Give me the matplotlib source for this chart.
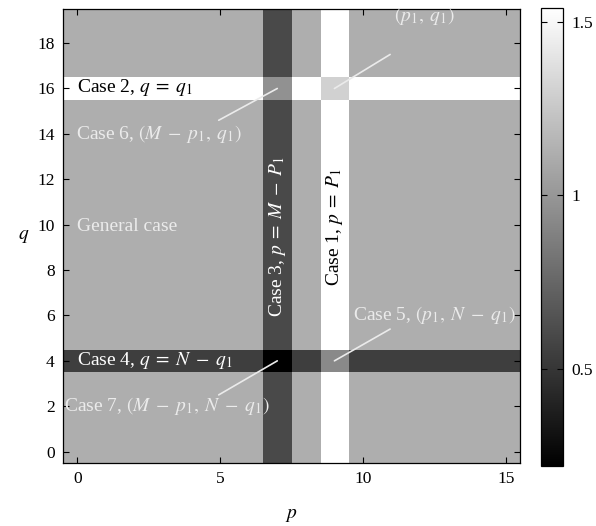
import numpy as np
import matplotlib
matplotlib.use("Agg")
import matplotlib.pyplot as plt

plt.rcParams['font.family'] = ['Liberation Serif', 'DejaVu Serif']
plt.rcParams['mathtext.fontset'] = 'stix'

# Grid size and special indices
M_cols = 16          # p = 0..15
N_rows = 20          # q = 0..19
p1, q1 = 9, 16
p_mirror, q_mirror = 7, 4

# Cell values for each region
general_val = 1.12
col_p1_val = 1.54
row_q1_val = 1.54
col_mirror_val = 0.60
row_mirror_val = 0.54
val_p1_q1 = 1.30
val_mirror_q1 = 0.97
val_p1_mirror = 0.93
val_mirror_mirror = 0.22

Z = np.full((N_rows, M_cols), general_val)
Z[:, p1] = col_p1_val
Z[q1, :] = row_q1_val
Z[:, p_mirror] = col_mirror_val
Z[q_mirror, :] = row_mirror_val
Z[q1, p1] = val_p1_q1
Z[q1, p_mirror] = val_mirror_q1
Z[q_mirror, p1] = val_p1_mirror
Z[q_mirror, p_mirror] = val_mirror_mirror

fig = plt.figure(figsize=(5.96, 5.26), dpi=100)
ax = fig.add_axes([0.1057, 0.1198, 0.767, 0.863])
cax = fig.add_axes([0.9077, 0.114, 0.0369, 0.871])

im = ax.imshow(Z, cmap='gray', origin='lower', aspect='auto',
               extent=(-0.5, M_cols - 0.5, -0.5, N_rows - 0.5),
               interpolation='nearest')

ax.set_xticks([0, 5, 10, 15])
ax.set_yticks(np.arange(0, 19, 2))
ax.tick_params(direction='in', length=4, width=0.8, top=True, right=True,
               labelsize=12.5, pad=6)
for s in ax.spines.values():
    s.set_linewidth(0.9)

ax.set_xlabel('$p$', fontsize=14, labelpad=14)
ax.set_ylabel('$q$', fontsize=14, rotation=0, labelpad=10, va='center')

cb = fig.colorbar(im, cax=cax)
cb.set_ticks([0.5, 1.0, 1.5])
cb.set_ticklabels(['0.5', '1', '1.5'])
cax.tick_params(direction='in', length=4, width=0.8, left=True, right=True,
                labelsize=12.5, pad=6)
cb.outline.set_linewidth(0.9)

fs = 14
light = '#ebebeb'
sp = '\\;'

ax.text(0.0, 16.05, 'Case 2, $q' + sp + '=' + sp + 'q_1$', color='black',
        fontsize=fs, ha='left', va='center')
ax.text(0.0, 4.0, 'Case 4, $q' + sp + '=' + sp + 'N' + sp + '-' + sp + 'q_1$',
        color='white', fontsize=fs, ha='left', va='center')
ax.text(0.0, 9.9, 'General case', color=light, fontsize=fs,
        ha='left', va='center')
ax.text(p_mirror, 9.5, 'Case 3, $p' + sp + '=' + sp + 'M' + sp + '-' + sp + 'P_1$',
        color='white', fontsize=fs, ha='center', va='center', rotation=90)
ax.text(p1, 9.9, 'Case 1, $p' + sp + '=' + sp + 'P_1$', color='black',
        fontsize=fs, ha='center', va='center', rotation=90)

ax.text(-0.05, 14.0, 'Case 6, $(M' + sp + '-' + sp + 'p_1,' + sp + 'q_1)$',
        color=light, fontsize=fs, ha='left', va='center')
ax.text(-0.45, 2.0,
        'Case 7, $(M' + sp + '-' + sp + 'p_1,' + sp + 'N' + sp + '-' + sp + 'q_1)$',
        color=light, fontsize=fs, ha='left', va='center')
ax.text(9.65, 6.0, 'Case 5, $(p_1,' + sp + 'N' + sp + '-' + sp + 'q_1)$',
        color=light, fontsize=fs, ha='left', va='center')
ax.text(11.1, 19.2, '$(p_1,' + sp + 'q_1)$', color=light, fontsize=fs,
        ha='left', va='center')

# Leader lines from the labels to the special cells
line_kw = dict(arrowstyle='-', color=light, lw=1.2, shrinkA=0, shrinkB=0)
leaders = [((4.95, 14.6), (p_mirror, q1)),
           ((10.95, 17.5), (p1, q1)),
           ((10.95, 5.4), (p1, q_mirror)),
           ((4.95, 2.5), (p_mirror, q_mirror))]
for start, end in leaders:
    ax.annotate('', xy=end, xytext=start, arrowprops=line_kw)

fig.savefig('out.png', dpi=100)
